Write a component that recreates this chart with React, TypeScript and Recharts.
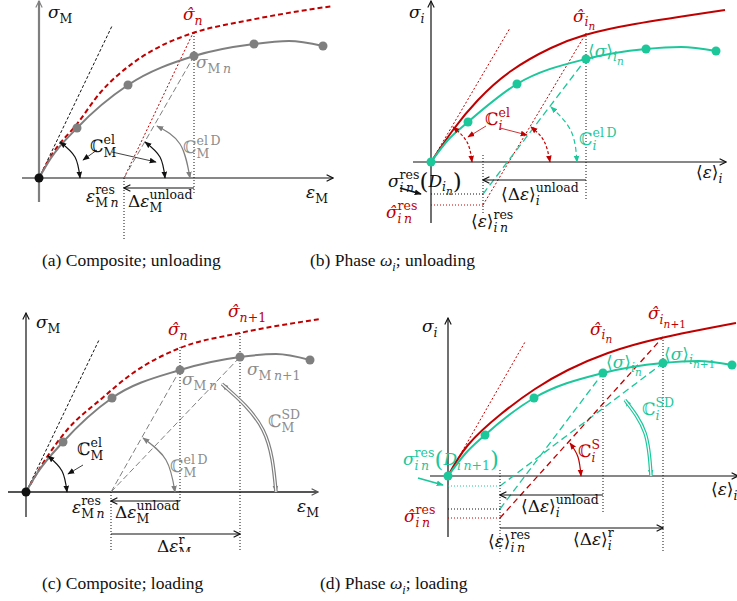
import React from 'react'
import { ComposedChart, Line, XAxis, YAxis, ReferenceLine, ReferenceDot } from 'recharts'

// all values in arbitrary strain / stress units, origin of each panel at (0, 0)

// (a) composite, unloading
const aHat = [[0, 0], [14, 25], [38, 54], [61, 85], [94, 115], [128, 135], [154, 145], [211, 158], [294, 172]]
const aCurve = [[0, 0], [12, 20], [38, 50], [89, 93], [155, 122], [215, 134], [250, 137], [284, 132]]
const aDots = [[38, 50], [89, 93], [155, 122], [215, 134], [284, 132]]
const aArcEl = [[21, 36], [36, 21], [41, 0]]
const aArcEl2 = [[106, 36], [121, 21], [126, 0]]
const aArcD = [[118, 52], [141, 34], [151, 0]]
const aLabels: [number, number, string, string][] = [
  [9, 165, 'σ_{M}', 'black'],
  [144, 163, 'σ\u0302_{n}', 'red'],
  [157, 115, 'σ_{M n}', 'gray'],
  [51, 31, 'ℂ^{el}_{M}', 'black'],
  [144, 30, 'ℂ^{el D}_{M}', 'gray'],
  [47, -19, 'ε^{res}_{M n}', 'black'],
  [89, -24, 'Δε^{unload}_{M}', 'black'],
  [267, -15, 'ε_{M}', 'black'],
]

// (b) phase, unloading
const bHat = [[0, 0], [22, 32], [47, 62], [80, 91], [120, 114], [154, 127], [204, 138], [294, 152]]
const bCurve = [[0, 0], [17, 22], [37, 40], [86, 78], [155, 103], [215, 113], [250, 115], [285, 111]]
const bDots = [[37, 40], [86, 78], [155, 103], [215, 113], [285, 111]]
const bArcEl = [[22, 35], [36, 20], [41, 0]]
const bArcEl2 = [[100, 35], [113, 21], [119, 0]]
const bArcD = [[120, 55], [140, 31], [146, 0]]
const bLabels: [number, number, string, string][] = [
  [-22, 149, 'σ_{i}', 'black'],
  [142, 145, 'σ\u0302_{i_{n}}', 'red'],
  [157, 110, '⟨σ⟩_{i_{n}}', 'green'],
  [54, 42, 'ℂ^{el}_{i}', 'red'],
  [148, 22, 'ℂ^{el D}_{i}', 'green'],
  [-43, -20, 'σ^{res}_{i n}(D_{i_{n}})', 'black'],
  [-45, -51, 'σ\u0302^{res}_{i n}', 'red'],
  [40, -60, '⟨ε⟩^{res}_{i n}', 'black'],
  [70, -33, '⟨Δε⟩^{unload}_{i}', 'black'],
  [265, -11, '⟨ε⟩_{i}', 'black'],
]

// (c) composite, loading
const cHat = [[0, 0], [21, 35], [41, 62], [74, 92], [107, 119], [154, 144], [214, 159], [294, 173]]
const cCurve = [[0, 0], [12, 20], [37, 50], [86, 94], [154, 122], [214, 135], [250, 138], [284, 132]]
const cDots = [[37, 50], [86, 94], [154, 122], [214, 135], [284, 132]]
const cArcEl = [[22, 36], [36, 21], [41, 0]]
const cArcD = [[117, 54], [140, 32], [149, 0]]
const cArcSD = [[196, 108], [237, 62], [250, 0]]
const cLabels: [number, number, string, string][] = [
  [10, 169, 'σ_{M}', 'black'],
  [142, 162, 'σ\u0302_{n}', 'red'],
  [202, 180, 'σ\u0302_{n+1}', 'red'],
  [156, 112, 'σ_{M n}', 'gray'],
  [221, 122, 'σ_{M n+1}', 'gray'],
  [242, 70, 'ℂ^{SD}_{M}', 'gray'],
  [51, 42, 'ℂ^{el}_{M}', 'black'],
  [144, 25, 'ℂ^{el D}_{M}', 'gray'],
  [46, -16, 'ε^{res}_{M n}', 'black'],
  [89, -21, 'Δε^{unload}_{M}', 'black'],
  [131, -55, 'Δε^{r}_{M}', 'black'],
  [271, -15, 'ε_{M}', 'black'],
]

// (d) phase, loading
const dHat = [[0, 0], [20, 31], [53, 62], [87, 87], [120, 106], [160, 123], [213, 138], [288, 153]]
const dCurve = [[0, 0], [17, 22], [37, 41], [86, 78], [155, 103], [215, 113], [250, 115], [284, 111]]
const dDots = [[37, 41], [86, 78], [155, 103], [215, 113], [284, 111]]
const dArcS = [[122, 33], [130, 19], [133, 0]]
const dArcSD = [[177, 76], [197, 43], [203, 0]]
const dLabels: [number, number, string, string][] = [
  [-26, 149, 'σ_{i}', 'black'],
  [142, 146, 'σ\u0302_{i_{n}}', 'red'],
  [200, 161, 'σ\u0302_{i_{n+1}}', 'red'],
  [158, 113, '⟨σ⟩_{i_{n}}', 'green'],
  [216, 121, '⟨σ⟩_{i_{n+1}}', 'green'],
  [194, 66, 'ℂ^{SD}_{i}', 'green'],
  [130, 24, 'ℂ^{S}_{i}', 'red'],
  [-45, 16, 'σ^{res}_{i n}(D_{i n+1})', 'green'],
  [-44, -41, 'σ\u0302^{res}_{i n}', 'red'],
  [40, -66, '⟨ε⟩^{res}_{i n}', 'black'],
  [73, -31, '⟨Δε⟩^{unload}_{i}', 'black'],
  [125, -64, '⟨Δε⟩^{r}_{i}', 'black'],
  [263, -14, '⟨ε⟩_{i}', 'black'],
]

const TONES: Record<string, string> = { black: '#111111', gray: '#7f7f7f', dark: '#555555', red: '#c00000', green: '#1cc79a', white: '#ffffff' }
const TEXT: Record<string, string> = { black: '#111111', gray: '#8c8c8c', red: '#c00000', green: '#1cc79a' }
const MATH = '"DejaVu Serif", serif'

// --- tiny tex-ish parser for the labels
type Node = { t: 'text'; v: string } | { t: 'sc'; sup?: Node[]; sub?: Node[] }

function parse(s: string): Node[] {
  const out: any[] = []
  let i = 0
  const group = () => {
    if (s[i] === '{') {
      let d = 1
      let j = i + 1
      while (j < s.length && d) {
        if (s[j] === '{') d++
        else if (s[j] === '}') d--
        j++
      }
      const g = s.slice(i + 1, j - 1)
      i = j
      return parse(g)
    }
    const g = s[i]
    i++
    return parse(g)
  }
  while (i < s.length) {
    const c = s[i]
    if (c === '^' || c === '_') {
      i++
      const slot = c === '^' ? 'sup' : 'sub'
      const g = group()
      const last = out[out.length - 1]
      if (last && last.t === 'sc' && !last[slot]) last[slot] = g
      else out.push({ t: 'sc', [slot]: g })
    } else {
      const last = out[out.length - 1]
      if (last && last.t === 'text') last.v += c
      else out.push({ t: 'text', v: c })
      i++
    }
  }
  return out
}

const SIZES = [17, 12.5, 10.5]

function renderText(v: string, depth: number) {
  const toks = v.match(/[A-Za-z]+|.\u0302?/gu) || []
  return toks.map((tk, j) => {
    if (tk === ' ') return <span key={j}>{'\u2009'}</span>
    if ((tk === '(' || tk === ')') && depth === 0) {
      return <span key={j} style={{ fontSize: 23, verticalAlign: '-2px' }}>{tk}</span>
    }
    const it = /^[σεωni]\u0302?$/u.test(tk) || (tk === 'D' && depth === 0)
    return <span key={j} style={{ fontStyle: it ? 'italic' : 'normal' }}>{tk}</span>
  })
}

function renderNodes(nodes: Node[], depth: number): any {
  return nodes.map((n: any, k) => {
    if (n.t === 'text') return <React.Fragment key={k}>{renderText(n.v, depth)}</React.Fragment>
    const pf = SIZES[depth]
    const fs = SIZES[Math.min(depth + 1, 2)]
    if (n.sup && n.sub) {
      return (
        <span key={k} style={{ display: 'inline-flex', flexDirection: 'column', fontSize: fs, lineHeight: `${fs}px`, verticalAlign: `${0.42 * pf}px` }}>
          <span>{renderNodes(n.sup, depth + 1)}</span>
          <span>{renderNodes(n.sub, depth + 1)}</span>
        </span>
      )
    }
    if (n.sup) return <span key={k} style={{ fontSize: fs, verticalAlign: `${0.42 * pf}px` }}>{renderNodes(n.sup, depth + 1)}</span>
    return <span key={k} style={{ fontSize: fs, verticalAlign: `${-0.28 * pf}px` }}>{renderNodes(n.sub, depth + 1)}</span>
  })
}

function MathLabel({ cx, cy, tex, color }: any) {
  return (
    <foreignObject x={cx} y={cy - 23.5} width={240} height={44} style={{ overflow: 'visible' }}>
      <div style={{ fontFamily: MATH, fontSize: SIZES[0], lineHeight: '44px', color, whiteSpace: 'nowrap' }}>
        {renderNodes(parse(tex), 0)}
      </div>
    </foreignObject>
  )
}

// --- element builders
const pts = (a: number[][]) => a.map(([x, y]) => ({ x, y }))

function seg(key: string, a: number[], b: number[], tone: string, w: number, dash?: string, end?: string) {
  return (
    <ReferenceLine
      key={key}
      segment={[{ x: a[0], y: a[1] }, { x: b[0], y: b[1] }]}
      stroke={TONES[tone]}
      strokeWidth={w}
      strokeDasharray={dash}
      markerEnd={end ? `url(#${end}-${tone})` : undefined}
      ifOverflow="visible"
    />
  )
}

function curve(key: string, data: number[][], tone: string, w: number, dash?: string, type = 'monotone', ends?: string) {
  return (
    <Line
      key={key}
      data={pts(data)}
      dataKey="y"
      type={type as any}
      stroke={TONES[tone]}
      strokeWidth={w}
      strokeDasharray={dash}
      dot={false}
      activeDot={false}
      legendType="none"
      isAnimationActive={false}
      markerStart={ends ? `url(#${ends}-${tone})` : undefined}
      markerEnd={ends ? `url(#${ends}-${tone})` : undefined}
    />
  )
}

function doubleArc(key: string, data: number[][], tone: string) {
  return [
    curve(key + 'o', data, tone, 3.6, undefined, 'natural', 'tri'),
    curve(key + 'i', data, 'white', 1.2, undefined, 'natural'),
  ]
}

function dots(key: string, data: number[][], tone: string, r: number) {
  return data.map(([x, y], i) => (
    <ReferenceDot key={key + i} x={x} y={y} r={r} fill={TONES[tone]} stroke="none" ifOverflow="visible" />
  ))
}

function labels(key: string, list: [number, number, string, string][]) {
  return list.map(([x, y, tex, tone], i) => (
    <ReferenceDot
      key={key + i}
      x={x}
      y={y}
      r={0}
      ifOverflow="visible"
      shape={(p: any) => <MathLabel cx={p.cx} cy={p.cy} tex={tex} color={TEXT[tone]} />}
    />
  ))
}

function Panel({ left, top, w, h, xd, yd, children }: any) {
  return (
    <div style={{ position: 'absolute', left, top, width: w, height: h }}>
      <ComposedChart width={w} height={h} margin={{ top: 0, right: 0, bottom: 0, left: 0 }}>
        <XAxis type="number" dataKey="x" domain={xd} hide allowDataOverflow />
        <YAxis type="number" dataKey="y" domain={yd} hide allowDataOverflow />
        {children}
      </ComposedChart>
    </div>
  )
}

const capStyle: React.CSSProperties = {
  position: 'absolute', fontFamily: '"Liberation Serif", serif', fontSize: 17.5, lineHeight: '20px', color: '#111', whiteSpace: 'nowrap',
}

export default function App() {
  return (
    <div style={{ position: 'absolute', left: 0, top: 0, width: 737, height: 601, background: '#fff', overflow: 'hidden' }}>
      <svg width={0} height={0} style={{ position: 'absolute' }}>
        <defs>
          {Object.entries(TONES).map(([k, c]) => (
            <React.Fragment key={k}>
              <marker id={`open-${k}`} viewBox="0 0 10 10" refX={9} refY={5} markerWidth={8} markerHeight={8} markerUnits="userSpaceOnUse" orient="auto-start-reverse">
                <path d="M1,1 L9,5 L1,9" fill="none" stroke={c} strokeWidth={1.4} />
              </marker>
              <marker id={`tri-${k}`} viewBox="0 0 10 10" refX={9} refY={5} markerWidth={7} markerHeight={7} markerUnits="userSpaceOnUse" orient="auto-start-reverse">
                <path d="M0,1 L10,5 L0,9 z" fill={c} />
              </marker>
            </React.Fragment>
          ))}
        </defs>
      </svg>

      {/* (a) composite; unloading */}
      <Panel left={0} top={0} w={368} h={240} xd={[-39, 329]} yd={[-62, 178]}>
        {seg('ax', [-17, 0], [294, 0], 'black', 1.2, undefined, 'open')}
        {seg('ay', [0, -24], [0, 177], 'gray', 2.2, undefined, 'open')}
        {seg('tan', [0, 0], [73, 152], 'black', 1, '3 2')}
        {seg('unh', [85, 0], [154, 145], 'red', 1, '2 2')}
        {seg('und', [85, 0], [155, 122], 'gray', 1, '6 3')}
        {seg('v1', [155, 145], [155, -17], 'black', 1, '1 2')}
        {seg('v2', [85, 0], [85, -62], 'black', 1, '1 2')}
        {seg('du', [155, -10], [85, -10], 'black', 1.2, undefined, 'open')}
        {seg('p1', [58, 28], [44, 18], 'black', 0.8, undefined, 'tri')}
        {seg('p2', [73, 26], [117, 16], 'black', 0.8, undefined, 'tri')}
        {curve('hat', aHat, 'red', 2, '5 3')}
        {curve('gr', aCurve, 'gray', 2)}
        {curve('arc1', aArcEl, 'black', 1.2, undefined, 'natural', 'tri')}
        {curve('arc2', aArcEl2, 'black', 1.2, undefined, 'natural', 'tri')}
        {curve('arc3', aArcD, 'gray', 1.2, undefined, 'natural', 'tri')}
        {dots('dt', aDots, 'gray', 4.5)}
        {dots('o', [[0, 0]], 'black', 4.5)}
        {labels('lb', aLabels)}
      </Panel>
      <div style={{ ...capStyle, left: 42, top: 250 }}>(a) Composite; unloading</div>

      {/* (b) phase; unloading */}
      <Panel left={368} top={0} w={369} h={240} xd={[-63, 306]} yd={[-78, 162]}>
        {seg('ax', [-18, 0], [295, 0], 'black', 1.2, undefined, 'open')}
        {seg('ay', [0, -61], [0, 161], 'black', 1.2, undefined, 'open')}
        {seg('tan', [0, 0], [79, 134], 'red', 1, '2 2')}
        {seg('unh', [52, -43], [154, 127], 'red', 1, '2 2')}
        {seg('und', [52, -32], [155, 103], 'green', 1.3, '7 4')}
        {seg('v1', [155, 129], [155, -38], 'black', 1, '1 2')}
        {seg('v2', [52, 7], [52, -51], 'black', 1, '1 2')}
        {seg('h1', [0, -32], [52, -32], 'black', 1, '1 2')}
        {seg('h2', [0, -43], [52, -43], 'red', 1, '1 2')}
        {seg('du', [155, -18], [52, -18], 'black', 1.2, undefined, 'open')}
        {seg('p1', [55, 36], [37, 25], 'red', 0.8, undefined, 'tri')}
        {seg('p2', [69, 34], [96, 27], 'red', 0.8, undefined, 'tri')}
        {seg('p3', [-31, -26], [-10, -32], 'black', 1.8, undefined, 'tri')}
        {curve('hat', bHat, 'red', 2, undefined, 'natural')}
        {curve('gr', bCurve, 'green', 2)}
        {curve('arc1', bArcEl, 'red', 1.2, '3 2', 'natural', 'tri')}
        {curve('arc2', bArcEl2, 'red', 1.2, '3 2', 'natural', 'tri')}
        {curve('arc3', bArcD, 'green', 1.2, '5 3', 'natural', 'tri')}
        {dots('dt', bDots, 'green', 4.5)}
        {dots('o', [[0, 0]], 'green', 4.5)}
        {labels('lb', bLabels)}
      </Panel>
      <div style={{ ...capStyle, left: 310, top: 250 }}>
        (b) Phase <i>ω</i><sub style={{ fontSize: 12, fontStyle: 'italic' }}>i</sub>; unloading
      </div>

      {/* (c) composite; loading */}
      <Panel left={0} top={290} w={368} h={262} xd={[-26, 342]} yd={[-60, 202]}>
        {seg('ax', [-18, 0], [292, 0], 'dark', 2, undefined, 'open')}
        {seg('ay', [0, -25], [0, 179], 'black', 1.2, undefined, 'open')}
        {seg('tan', [0, 0], [73, 152], 'black', 1, '3 2')}
        {seg('und', [85, 0], [154, 122], 'gray', 1, '6 3')}
        {seg('usd', [85, 0], [214, 135], 'gray', 1, '6 3')}
        {seg('v1', [154, 145], [154, -11], 'black', 1, '1 2')}
        {seg('v2', [214, 159], [214, -60], 'black', 1, '1 2')}
        {seg('v3', [85, 0], [85, -60], 'black', 1, '1 2')}
        {seg('du', [154, -9], [85, -9], 'black', 1.2, undefined, 'open')}
        {seg('dr', [85, -42], [214, -42], 'black', 1.2, undefined, 'open')}
        {seg('p1', [57, 27], [42, 18], 'black', 0.8, undefined, 'tri')}
        {curve('hat', cHat, 'red', 2, '5 3')}
        {curve('gr', cCurve, 'gray', 2)}
        {curve('arc1', cArcEl, 'black', 1.2, undefined, 'natural', 'tri')}
        {curve('arc2', cArcD, 'gray', 1.2, undefined, 'natural', 'tri')}
        {doubleArc('arc3', cArcSD, 'gray')}
        {dots('dt', cDots, 'gray', 4.5)}
        {dots('o', [[0, 0]], 'black', 4.5)}
        {labels('lb', cLabels)}
      </Panel>
      <div style={{ ...capStyle, left: 42, top: 573 }}>(c) Composite; loading</div>

      {/* (d) phase; loading */}
      <Panel left={368} top={290} w={369} h={262} xd={[-80, 289]} yd={[-76, 186]}>
        {seg('ax', [-18, 0], [290, 0], 'black', 1.2, undefined, 'open')}
        {seg('ay', [0, -61], [0, 158], 'black', 1.2, undefined, 'open')}
        {seg('tan', [0, 0], [77, 134], 'red', 1, '2 2')}
        {seg('g1', [52, -10], [215, 113], 'green', 1.3, '7 4')}
        {seg('g2', [52, -33], [155, 103], 'green', 1.3, '7 4')}
        {seg('r1', [52, -42], [215, 139], 'red', 1.3, '6 4')}
        {seg('v1', [155, 103], [155, -36], 'black', 1, '1 2')}
        {seg('v2', [215, 139], [215, -76], 'black', 1, '1 2')}
        {seg('v3', [52, 6], [52, -76], 'black', 1, '1 2')}
        {seg('h1', [0, -10], [52, -10], 'green', 1, '1 2')}
        {seg('h2', [0, -33], [52, -33], 'black', 1, '1 2')}
        {seg('h3', [0, -42], [52, -42], 'red', 1, '1 2')}
        {seg('du', [155, -19], [52, -19], 'black', 1.2, undefined, 'open')}
        {seg('dr', [52, -52], [215, -52], 'black', 1.2, undefined, 'open')}
        {seg('p1', [-30, -2], [-5, -9], 'green', 1.8, undefined, 'tri')}
        {curve('hat', dHat, 'red', 2, undefined, 'natural')}
        {curve('gr', dCurve, 'green', 2)}
        {curve('arc1', dArcS, 'red', 1.2, undefined, 'natural', 'tri')}
        {doubleArc('arc2', dArcSD, 'green')}
        {dots('dt', dDots, 'green', 4.5)}
        {dots('o', [[0, 0]], 'green', 4.5)}
        {labels('lb', dLabels)}
      </Panel>
      <div style={{ ...capStyle, left: 320, top: 573 }}>
        (d) Phase <i>ω</i><sub style={{ fontSize: 12, fontStyle: 'italic' }}>i</sub>; loading
      </div>
    </div>
  )
}
